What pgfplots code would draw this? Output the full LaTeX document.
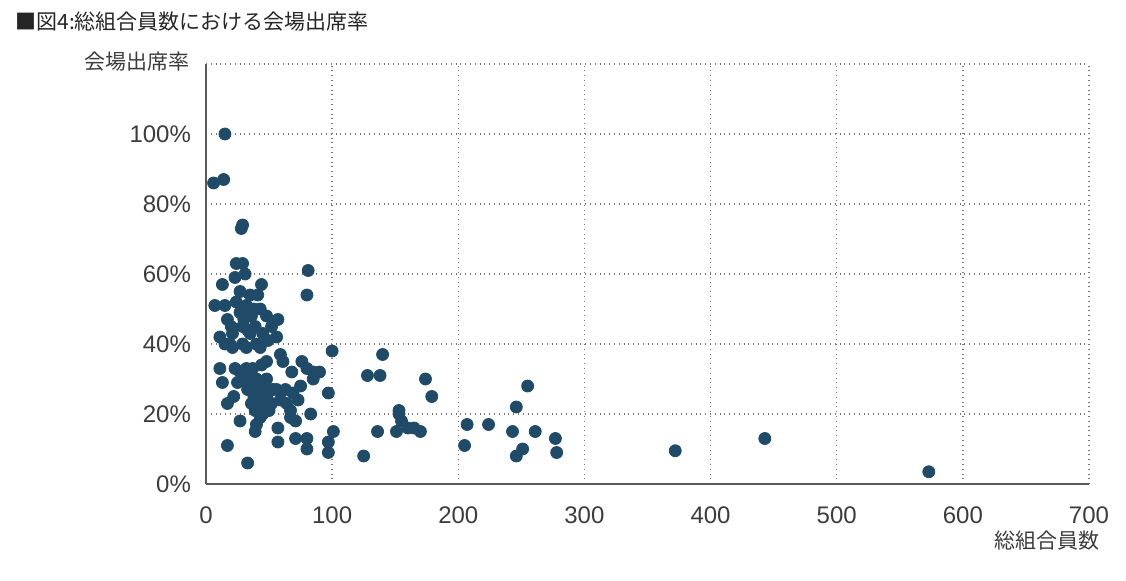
\documentclass[border=0pt]{standalone}
\usepackage{pgfplots}
\pgfplotsset{compat=1.18}
\usepackage{fontspec}
\setmainfont{Liberation Sans}
\newfontfamily\jp{Noto Sans CJK JP}
\definecolor{dot}{RGB}{31,75,105}
\definecolor{txt}{RGB}{60,60,60}
\definecolor{gridc}{RGB}{120,120,120}

\pgfplotstableread{
x y
15 100
6 86
14 87
29 74
28 73
24 63
29 63
31 60
23 59
81 61
80 54
13 57
44 57
27 55
35 54
41 54
24 52
32 51
43 50
7 51
15 51
27 49
36 48
48 48
57 47
17 47
20 45
29 45
39 45
52 45
21 43
35 43
45 43
56 42
11 42
19 40
29 40
40 40
49 41
15 40
21 39
32 39
43 39
30 47
38 50
33 44
59 37
61 35
48 35
44 34
68 32
76 35
80 33
85 32
90 32
85 30
11 33
13 29
17 23
22 25
23 33
27 32
32 33
37 33
25 29
35 28
39 26
44 27
48 25
36 23
41 22
47 23
52 23
59 24
64 23
69 26
75 28
73 24
67 21
39 21
43 19
40 17
39 15
27 18
57 16
67 19
71 18
57 12
71 13
80 13
80 10
83 20
17 11
33 6
29 30
48 30
56 27
63 27
38 25
42 28
45 24
50 27
33 27
40 30
45 20
50 21
53 27
36 31
100 38
97 26
101 15
97 12
97 9
140 37
128 31
138 31
174 30
179 25
153 21
153 20
155 18
160 16
165 16
170 15
136 15
151 15
125 8
207 17
224 17
205 11
246 22
255 28
243 15
261 15
277 13
251 10
246 8
278 9
372 9.5
443 13
573 3.5
}\attendance

\begin{document}
\begin{tikzpicture}
\begin{axis}[
    scale only axis,
    width=441.5pt, height=210pt,
    xmin=0, xmax=700, ymin=0, ymax=120,
    xtick={0,100,...,700},
    ytick={0,20,...,120},
    yticklabels={0\%,20\%,40\%,60\%,80\%,100\%,{}},
    /pgf/number format/assume math mode=true,
    major tick length=0pt,
    axis x line*=bottom, axis y line*=left,
    axis line style={draw=black!65, line width=0.8pt, -},
    grid=major,
    major grid style={gridc, dotted, line width=0.7pt},
    tick label style={font=\fontsize{12}{14}\selectfont, text=txt},
    xticklabel style={yshift=-8pt},
    yticklabel style={xshift=-4pt},
    clip=false,
]
\addplot[only marks, mark=*, mark size=3pt, mark options={fill=dot, draw=dot}] table[x=x,y=y] {\attendance};
\coordinate (O) at (rel axis cs:0,0);
\end{axis}
\node[anchor=west, inner sep=0pt, font=\jp\fontsize{10.5}{12}\selectfont, text=black!85] at ([shift={(-95.5pt,231pt)}]O) {■図4:総組合員数における会場出席率};
\node[anchor=east, inner sep=0pt, font=\jp\fontsize{10.5}{12}\selectfont, text=txt] at ([shift={(-8pt,211pt)}]O) {会場出席率};
\node[anchor=east, inner sep=0pt, font=\jp\fontsize{10.5}{12}\selectfont, text=txt] at ([shift={(447pt,-28.5pt)}]O) {総組合員数};
\path ([shift={(-103pt,-48pt)}]O) rectangle ([shift={(460pt,242pt)}]O);
\end{tikzpicture}
\end{document}
